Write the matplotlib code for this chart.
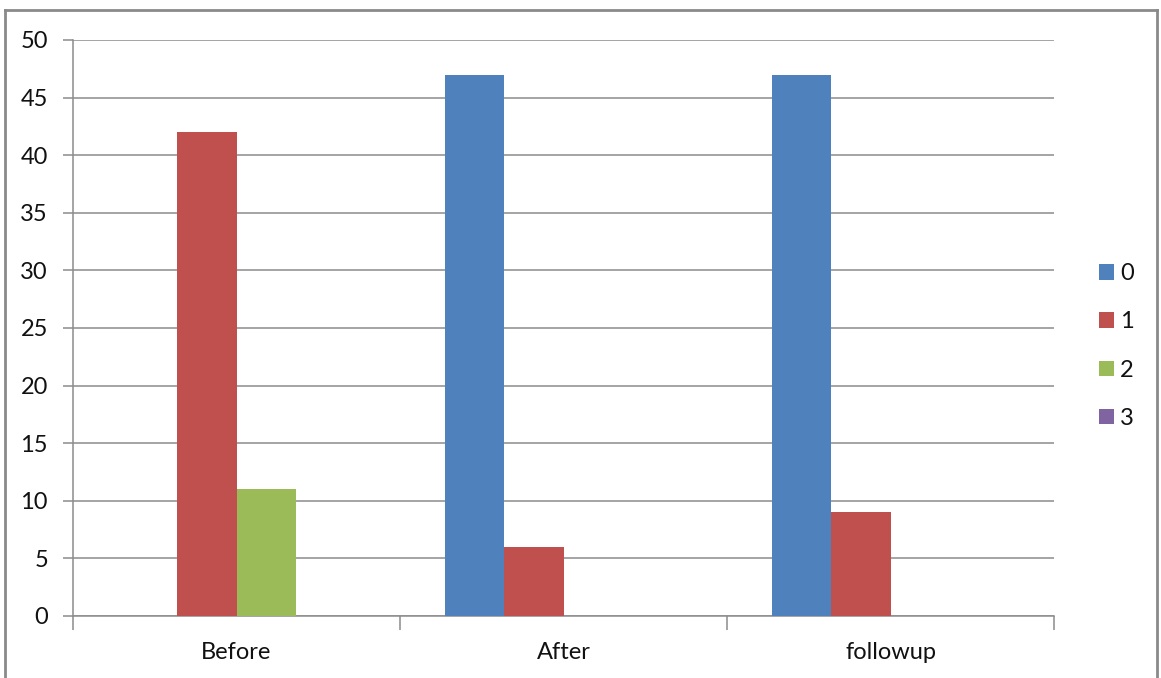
import matplotlib
matplotlib.use("Agg")
import matplotlib.pyplot as plt
from matplotlib.patches import Patch
from matplotlib.lines import Line2D
import numpy as np

categories = ["Before", "After", "followup"]
series_names = ["0", "1", "2", "3"]
values_0 = [0, 47, 47]
values_1 = [42, 6, 9]
values_2 = [11, 0, 0]
values_3 = [0, 0, 0]
y_ticks = [0, 5, 10, 15, 20, 25, 30, 35, 40, 45, 50]

colors = ["#4F81BD", "#C0504D", "#9BBB59", "#8064A2"]
series = [values_0, values_1, values_2, values_3]

plt.rcParams["font.family"] = ["Lato", "DejaVu Sans"]
FS = 17
GRID = "#8c8c8c"
TEXT = "#111111"

fig = plt.figure(figsize=(11.61, 6.78), dpi=100)
fig.patch.set_facecolor("white")
ax = fig.add_axes([73 / 1161, 1 - 616 / 678, (1054 - 73) / 1161, (616 - 40) / 678])

x = np.arange(len(categories))
w = 0.181
for i, (vals, c) in enumerate(zip(series, colors)):
    ax.bar(x + (i - 1.5) * w, vals, width=w, color=c, zorder=3, linewidth=0)

ax.set_xlim(-0.5, len(categories) - 0.5)
ax.set_ylim(0, 50)
ax.set_yticks(y_ticks)
ax.yaxis.grid(True, color=GRID, linewidth=1.1, zorder=0)
ax.set_axisbelow(True)

for s in ["top", "right"]:
    ax.spines[s].set_visible(False)
ax.spines["left"].set_color(GRID)
ax.spines["bottom"].set_color(GRID)
ax.spines["left"].set_linewidth(1.1)
ax.spines["bottom"].set_linewidth(1.1)

ax.set_xticks(x)
ax.set_xticklabels(categories, fontsize=FS, color=TEXT)
ax.tick_params(axis="x", which="major", length=0, pad=19)
ax.set_xticks(np.arange(-0.5, len(categories), 1.0), minor=True)
ax.tick_params(axis="x", which="minor", length=10, width=1.1, color=GRID)
ax.tick_params(axis="y", length=7, width=1.1, color=GRID, labelsize=FS,
               labelcolor=TEXT, pad=11)

handles = [Patch(facecolor=c, edgecolor="none") for c in colors]
fig.legend(handles, series_names, loc="center left",
           bbox_to_anchor=(1090 / 1161, 1 - 346 / 678), frameon=False,
           fontsize=FS, handlelength=0.62, handleheight=0.62,
           handletextpad=0.25, labelspacing=1.15, borderaxespad=0,
           labelcolor=TEXT)

# outer chart frame
frame_kw = dict(color="#8a8a8a", linewidth=2.0, transform=fig.transFigure)
fig.add_artist(Line2D([5 / 1161, 5 / 1161], [0, 1 - 10 / 678], **frame_kw))
fig.add_artist(Line2D([5 / 1161, 1157 / 1161], [1 - 10 / 678, 1 - 10 / 678], **frame_kw))
fig.add_artist(Line2D([1157 / 1161, 1157 / 1161], [0, 1 - 10 / 678], **frame_kw))

fig.savefig("out.png", dpi=100)
